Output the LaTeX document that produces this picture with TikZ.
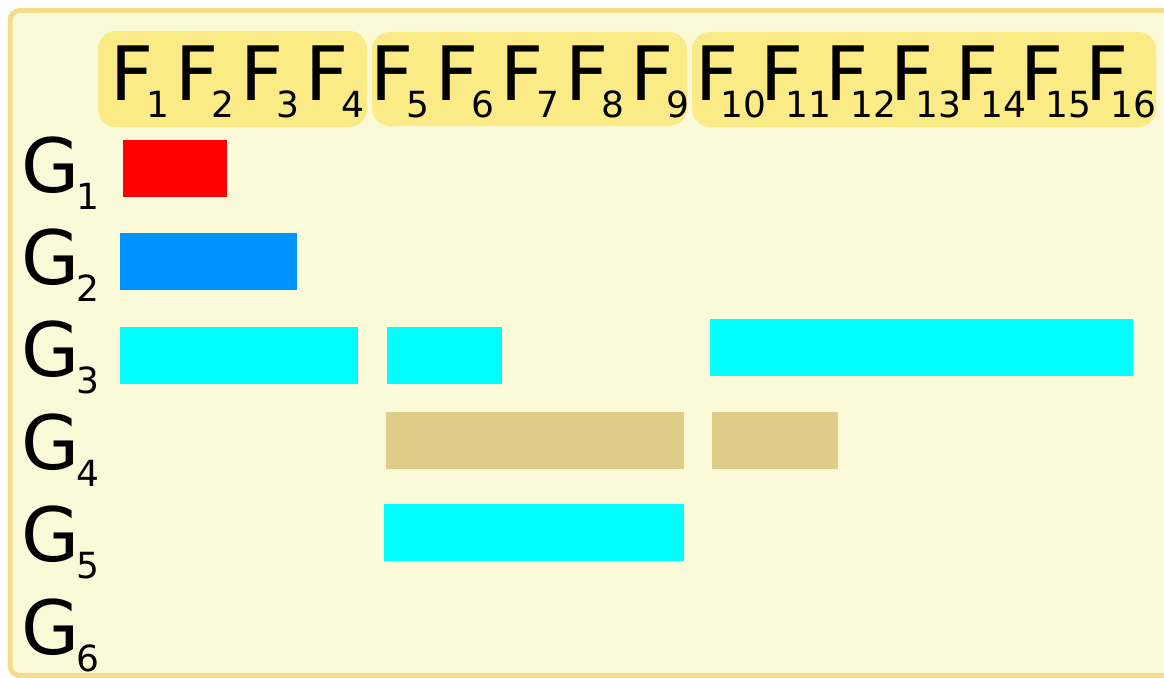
\documentclass[tikz,border=0pt]{standalone}
\usepackage{fontspec}
\setmainfont{DejaVu Sans}
\usepackage{tikz}
\definecolor{paper}{HTML}{FAF9D8}
\definecolor{rim}{HTML}{F6DC8A}
\definecolor{bandfill}{HTML}{FAEB87}
\definecolor{skyblue}{HTML}{0094FF}
\definecolor{aqua}{HTML}{00FFFF}
\definecolor{khaki}{HTML}{DECC88}
\newcommand{\bigfont}{\fontsize{75}{80}\selectfont}
\newcommand{\subfont}{\fontsize{36}{40}\selectfont}
% letter with its subscript centred at a fixed offset
\newcommand{\sublab}[3]{#1\kern#3\makebox[0pt]{\raisebox{-17pt}{\subfont #2}}}

\begin{document}
\begin{tikzpicture}[x=1pt, y=-1pt,
    band/.style={fill=bandfill, rounded corners=18pt},
    lbl/.style={anchor=base west, inner sep=0pt, outer sep=0pt, font=\bigfont},
    bar/.style={fill=#1}
]
\useasboundingbox (0,0) rectangle (1164,677);
\begin{scope}
  \clip (0,0) rectangle (1164,677);
  \filldraw[fill=paper, draw=rim, line width=5pt, rounded corners=10pt] (10,10.5) rectangle (1200,675.5);
\end{scope}

% header groups
\fill[band] (98,31) rectangle (367,127);
\fill[band] (372,32) rectangle (687,126);
\fill[band] (692,32) rectangle (1156,127);

% column labels
\foreach \k in {1,...,16}
  \node[lbl] (f\k) at ({110+65*(\k-1)},100) {\sublab{F}{\k}{5pt}};

% row labels
\foreach \g in {1,...,6}
  \node[lbl] (g\g) at (21,{192+92.4*(\g-1)}) {\sublab{G}{\g}{9pt}};

% bars
\fill[bar=red] (123,140) rectangle (227,197);
\fill[bar=skyblue] (120,233) rectangle (297,290);
\fill[bar=aqua] (120,327) rectangle (358,384);
\fill[bar=aqua] (387,327) rectangle (502,384);
\fill[bar=aqua] (710,319) rectangle (1133,376);
\fill[bar=khaki] (386,412) rectangle (684,469);
\fill[bar=khaki] (712,412) rectangle (838,469);
\fill[bar=aqua] (384,504) rectangle (684,561);
\end{tikzpicture}
\end{document}
